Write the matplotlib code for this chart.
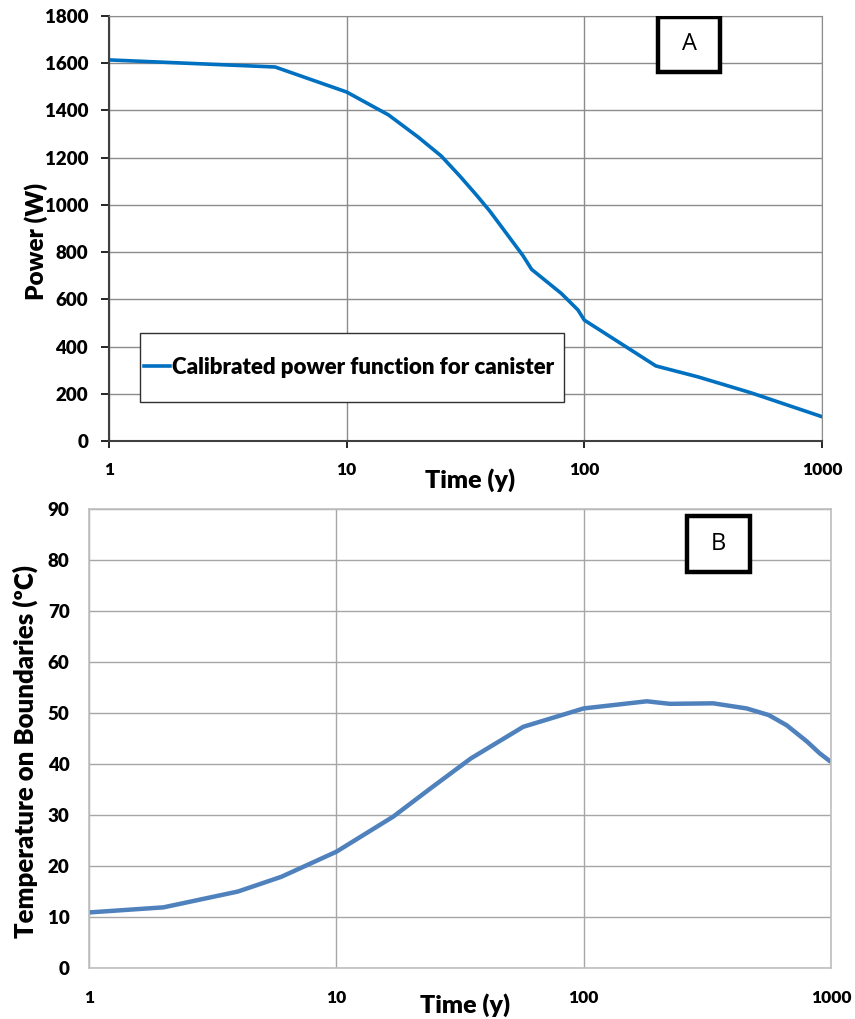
import matplotlib.pyplot as plt
from matplotlib.patches import Rectangle

# canister power vs time
power_t = [1, 5, 10, 15, 20, 25, 30, 35, 40, 45, 50, 55, 60, 80, 94, 100, 200, 300, 500, 1000]
power_w = [1614, 1584, 1478, 1381, 1287, 1207, 1121, 1044, 974, 905, 843, 787, 727, 625, 555, 512, 318, 272, 205, 103]

# boundary temperature vs time
temp_t = [1, 2, 4, 6, 10, 17, 24, 35, 57, 100, 140, 180, 223, 334, 456, 560, 662, 800, 900, 1000]
temp_c = [10.9, 11.9, 15.0, 17.9, 22.8, 29.7, 35.2, 41.1, 47.3, 50.9, 51.7, 52.3, 51.8, 51.9, 50.9, 49.6, 47.6, 44.4, 42.1, 40.4]

xticks = [1, 10, 100, 1000]
xticklabels = ['1', '10', '100', '1000']

plt.rcParams['font.family'] = ['Lato', 'DejaVu Sans']
plt.rcParams['font.weight'] = 'heavy'

fig = plt.figure(figsize=(8.55, 10.19), dpi=100)

# ---- panel A ----
ax1 = fig.add_axes([0.1275, 0.5672, 0.8339, 0.4171])
ax1.plot(power_t, power_w, color='#0070C0', lw=2.6, label='Calibrated power function for canister',
         solid_joinstyle='round')
ax1.set_xscale('log')
ax1.set_xlim(1, 1000)
ax1.set_ylim(0, 1800)
ax1.set_yticks(range(0, 1801, 200))
ax1.set_xticks(xticks)
ax1.set_xticklabels(xticklabels)
ax1.minorticks_off()
ax1.grid(True, color='#8C8C8C', lw=1.0)
ax1.set_axisbelow(True)
for s in ['top', 'right']:
    ax1.spines[s].set_color('#8C8C8C')
for s in ['left', 'bottom']:
    ax1.spines[s].set_color('#404040')
    ax1.spines[s].set_linewidth(1.5)
ax1.tick_params(axis='y', length=6, width=1.2, pad=9, labelsize=13.5)
ax1.tick_params(axis='x', length=5, width=1.2, pad=10, labelsize=12.5)

ax1.add_patch(Rectangle((0.0435, 0.0918), 0.5945, 0.1622, transform=ax1.transAxes,
                        facecolor='white', edgecolor='#303030', lw=1.0, zorder=4))
ax1.legend(loc='center left', bbox_to_anchor=(0.049, 0.173), frameon=False,
           borderpad=0, borderaxespad=0, handlelength=1.15, handletextpad=0.1,
           prop={'size': 16, 'weight': 'heavy'}).set_zorder(5)

ax1.add_patch(Rectangle((0.770, 0.868), 0.087, 0.130, transform=ax1.transAxes,
                        facecolor='white', edgecolor='black', lw=3.2, zorder=4))
ax1.text(0.8135, 0.933, 'A', transform=ax1.transAxes, ha='center', va='center',
         fontsize=17, fontweight='normal', family='Open Sans', zorder=5)

fig.text(36 / 855, 1 - 241 / 1019, 'Power (W)', rotation=90, ha='center', va='center',
         fontsize=17.5, fontweight='heavy')
fig.text(470 / 855, 1 - 480 / 1019, 'Time (y)', ha='center', va='center',
         fontsize=18, fontweight='heavy')

# ---- panel B ----
ax2 = fig.add_axes([0.1041, 0.0500, 0.8678, 0.4505])
ax2.plot(temp_t, temp_c, color='#4F81BD', lw=3.2, solid_joinstyle='round', solid_capstyle='butt')
ax2.set_xscale('log')
ax2.set_xlim(1, 1000)
ax2.set_ylim(0, 90)
ax2.set_yticks(range(0, 91, 10))
ax2.set_xticks(xticks)
ax2.set_xticklabels(xticklabels)
ax2.minorticks_off()
ax2.grid(True, color='#A6A6A6', lw=1.0)
ax2.set_axisbelow(True)
for s in ax2.spines.values():
    s.set_color('#BFBFBF')
    s.set_linewidth(1.2)
ax2.tick_params(axis='both', length=0, labelsize=13.5)
ax2.tick_params(axis='y', pad=14)
ax2.tick_params(axis='x', pad=16, labelsize=12.5)

ax2.add_patch(Rectangle((0.8055, 0.8634), 0.0855, 0.122, transform=ax2.transAxes,
                        facecolor='white', edgecolor='black', lw=3.2, zorder=4))
ax2.text(0.848, 0.924, 'B', transform=ax2.transAxes, ha='center', va='center',
         fontsize=17, fontweight='normal', family='Open Sans', zorder=5)

fig.text(25 / 855, 1 - 752 / 1019, 'Temperature on Boundaries (ºC)', rotation=90,
         ha='center', va='center', fontsize=18.5, fontweight='heavy')
fig.text(465 / 855, 1 - 1005 / 1019, 'Time (y)', ha='center', va='center',
         fontsize=18, fontweight='heavy')

fig.savefig('out.png', dpi=100)
